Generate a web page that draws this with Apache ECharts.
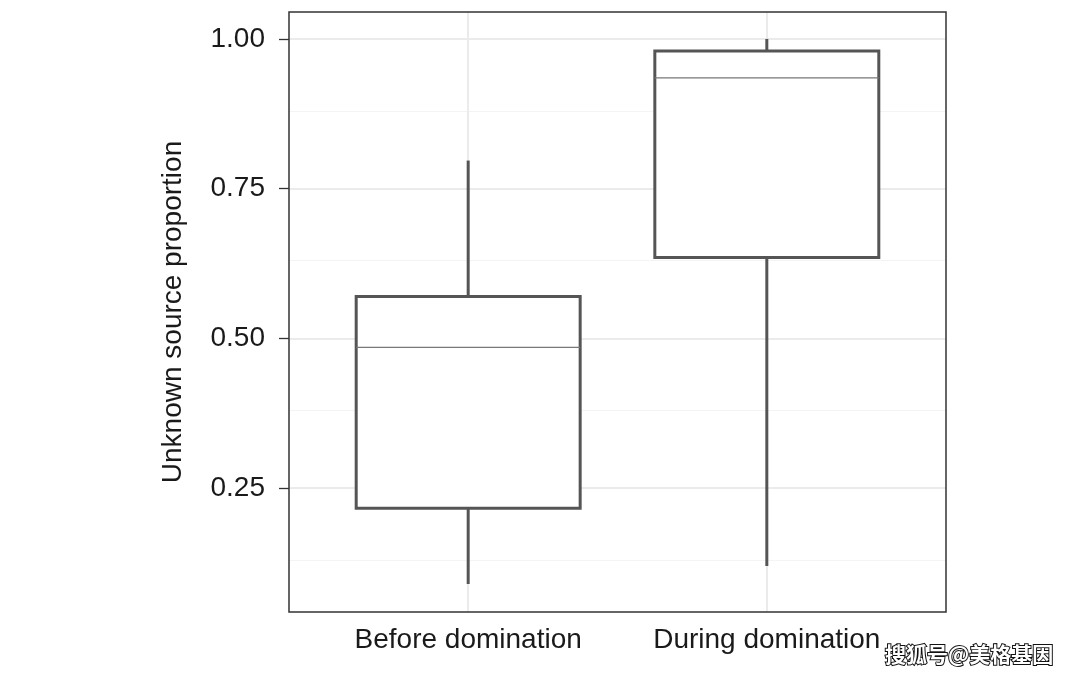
<!DOCTYPE html>
<html><head><meta charset="utf-8">
<script src="https://cdn.jsdelivr.net/npm/echarts@6/dist/echarts.min.js"></script>
<style>html,body{margin:0;padding:0;background:#fff}#c{width:1080px;height:679px}</style>
</head><body><div id="c"></div>
<script>
const categories = ['Before domination', 'During domination'];
const positions = [1, 2];
const mins = [0.09, 0.12];
const q1s = [0.2167, 0.635];
const medians = [0.485, 0.935];
const q3s = [0.57, 0.98];
const maxs = [0.797, 1.0];
const yTicks = [0.25, 0.5, 0.75, 1.0];
const yMinor = [0.125, 0.375, 0.625, 0.875];

const boxData = positions.map((p, i) => [p, mins[i], q1s[i], medians[i], q3s[i], maxs[i]]);

const chart = echarts.init(document.getElementById('c'));
const font = 'Liberation Sans, Arial, Helvetica, sans-serif';

const markData = [];
yMinor.forEach(v => markData.push({yAxis: v, lineStyle: {color: '#f4f4f4', width: 1.2, type: 'solid'}}));
yTicks.forEach(v => markData.push({yAxis: v, lineStyle: {color: '#ebebeb', width: 2, type: 'solid'}}));
positions.forEach(v => markData.push({xAxis: v, lineStyle: {color: '#ebebeb', width: 2, type: 'solid'}}));

chart.setOption({
  animation: false,
  backgroundColor: '#fff',
  grid: {left: 289, top: 12, width: 657, height: 600, show: false},
  xAxis: {
    type: 'value', min: 0.4, max: 2.6,
    axisLine: {show: false},
    splitLine: {show: false},
    axisTick: {show: false},
    axisLabel: {customValues: positions, margin: 14, fontSize: 28, color: '#1a1a1a', fontFamily: font,
      formatter: v => categories[positions.indexOf(Math.round(v))] || ''}
  },
  yAxis: {
    type: 'value', min: 0.0433, max: 1.045,
    name: 'Unknown source proportion', nameLocation: 'middle', nameGap: 102,
    nameTextStyle: {fontSize: 28, color: '#1a1a1a', fontFamily: font},
    axisLine: {show: false},
    splitLine: {show: false},
    axisTick: {show: true, customValues: yTicks, length: 10, lineStyle: {color: '#333', width: 1.3}},
    axisLabel: {customValues: yTicks, margin: 24, fontSize: 28, color: '#1a1a1a', fontFamily: font,
      formatter: v => v.toFixed(2)}
  },
  series: [
    {
      type: 'line', data: [], z: 1, silent: true,
      markLine: {silent: true, symbol: 'none', label: {show: false}, animation: false, data: markData}
    },
    {
      type: 'custom', z: 5, data: boxData,
      encode: {x: 0, y: [1, 2, 3, 4, 5]},
      renderItem: function (params, api) {
        const x = api.value(0);
        const halfW = 0.375;
        const pMin = api.coord([x, api.value(1)]);
        const pQ1 = api.coord([x, api.value(2)]);
        const pMed = api.coord([x, api.value(3)]);
        const pQ3 = api.coord([x, api.value(4)]);
        const pMax = api.coord([x, api.value(5)]);
        const left = api.coord([x - halfW, 0])[0];
        const right = api.coord([x + halfW, 0])[0];
        const stroke = '#555555';
        return {
          type: 'group',
          children: [
            {type: 'line', shape: {x1: pMax[0], y1: pMax[1], x2: pQ3[0], y2: pQ3[1]}, style: {stroke: stroke, lineWidth: 3}},
            {type: 'line', shape: {x1: pQ1[0], y1: pQ1[1], x2: pMin[0], y2: pMin[1]}, style: {stroke: stroke, lineWidth: 3}},
            {type: 'rect', shape: {x: left, y: pQ3[1], width: right - left, height: pQ1[1] - pQ3[1]}, style: {fill: '#fff', stroke: stroke, lineWidth: 3}},
            {type: 'line', shape: {x1: left, y1: pMed[1], x2: right, y2: pMed[1]}, style: {stroke: '#777777', lineWidth: 1.2}}
          ]
        };
      }
    }
  ],
  graphic: [
    {type: 'rect', z: 100, silent: true, shape: {x: 289, y: 12, width: 657, height: 600}, style: {fill: 'none', stroke: '#333333', lineWidth: 1.5}},
    {type: 'text', z: 100, left: 884, top: 643, style: {text: '搜狐号@美格基因', fontSize: 21, fontWeight: 'bold', fontFamily: 'Noto Sans CJK SC', fill: '#fff', stroke: '#111', lineWidth: 2}}
  ]
});
</script></body></html>
